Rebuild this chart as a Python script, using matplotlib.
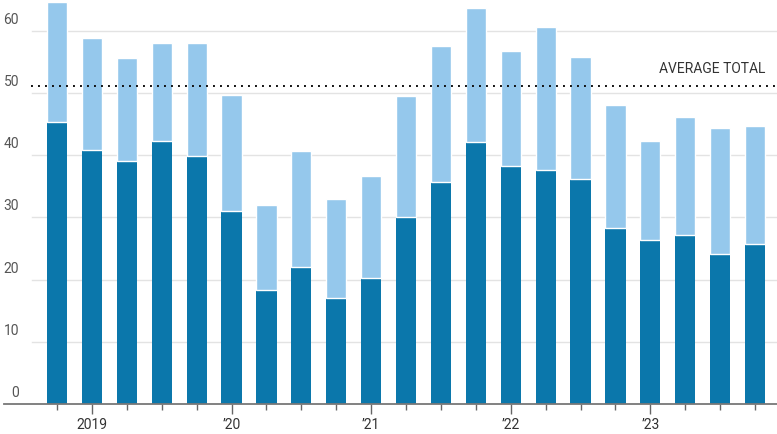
"""Stacked quarterly bars with an average-total reference line."""
import matplotlib
matplotlib.use("Agg")
import matplotlib.pyplot as plt
import numpy as np

quarters = ["Q4 2018"] + [f"Q{q} {y}" for y in range(2019, 2024) for q in range(1, 5)]
lower = [45.4, 40.9, 39.1, 42.3, 39.8, 31.1, 18.3, 22.1, 17.0, 20.3, 30.0,
         35.7, 42.2, 38.2, 37.6, 36.2, 28.3, 26.3, 27.1, 24.1, 25.7]
total = [64.7, 58.9, 55.7, 58.1, 58.1, 49.7, 32.0, 40.7, 32.9, 36.7, 49.5,
         57.6, 63.7, 56.8, 60.6, 55.8, 48.1, 42.3, 46.1, 44.3, 44.7]
average_total = 51.2
year_labels = ["2019", "\u201920", "\u201921", "\u201922", "\u201923"]
y_ticks = [0, 10, 20, 30, 40, 50, 60]

DARK = "#0b77ab"
LIGHT = "#95c8ec"
FONT = ["Roboto", "DejaVu Sans"]

lower_arr = np.array(lower)
upper_arr = np.array(total) - lower_arr
x = np.arange(len(quarters))

fig = plt.figure(figsize=(7.77, 4.34), dpi=100)
ax = fig.add_axes([4 / 777, 30 / 434, 773 / 777, 404 / 434])
ax.set_xlim(-1.52, 20.63)
ax.set_ylim(0, 64.95)

grid_start = (32 - 4) / 773
for t in y_ticks[1:]:
    ax.axhline(t, xmin=grid_start, xmax=1, color="#e3e3e3", lw=1.0, zorder=0)
    ax.annotate(str(t), xy=(0, t), xycoords=("axes fraction", "data"),
                xytext=(15, 4), textcoords="offset pixels", ha="right", va="bottom",
                fontsize=10, color="#555555", family=FONT)
ax.annotate("0", xy=(0, 0), xycoords=("axes fraction", "data"),
            xytext=(15, 4), textcoords="offset pixels", ha="right", va="bottom",
            fontsize=10, color="#555555", family=FONT)

ax.bar(x, lower_arr, width=0.58, color=DARK, zorder=2)
ax.bar(x, upper_arr, bottom=lower_arr, width=0.58, color=LIGHT,
       edgecolor="white", linewidth=1.0, zorder=2)

ax.axhline(average_total, xmin=(31 - 4) / 773, xmax=1, color="#111111",
           lw=1.4, linestyle=(0, (1, 2.6)), zorder=3)
ax.text(20.3, average_total + 1.5, "AVERAGE TOTAL", ha="right", va="bottom",
        fontsize=10, color="#333333", family=FONT)

for side in ["top", "right", "left"]:
    ax.spines[side].set_visible(False)
ax.spines["bottom"].set_color("#777777")
ax.spines["bottom"].set_linewidth(1.3)
ax.set_yticks([])

year_pos = [1, 5, 9, 13, 17]
ax.set_xticks(year_pos)
ax.set_xticklabels(year_labels, fontsize=10, color="#333333", family=FONT)
ax.set_xticks(x, minor=True)
ax.tick_params(axis="x", which="major", length=7, width=1, color="#666666", pad=3)
ax.tick_params(axis="x", which="minor", length=4, width=1, color="#666666")

fig.savefig("out.png", dpi=100)
